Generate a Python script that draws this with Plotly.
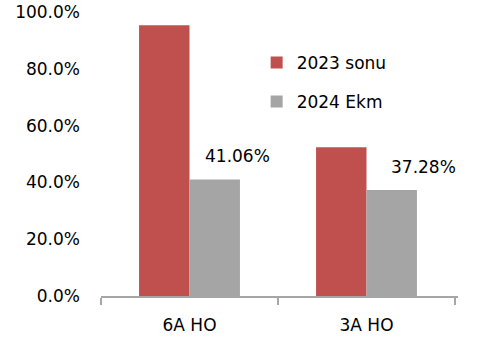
import plotly.graph_objects as go

categories = ["6A HO", "3A HO"]
series_names = ["2023 sonu", "2024 Ekm"]
values_2023 = [0.953, 0.524]
values_2024 = [0.4106, 0.3728]
colors = ["#C0504D", "#A5A5A5"]
y_ticks = [0, 0.2, 0.4, 0.6, 0.8, 1.0]

FONT = "DejaVu Sans"
fig = go.Figure()
for i, (name, vals) in enumerate(zip(series_names, [values_2023, values_2024])):
    fig.add_trace(go.Bar(
        x=categories, y=vals, name=name, legendgroup=name,
        marker=dict(color=colors[i], line=dict(width=0)),
    ))

label_xshift = [48, 57]
for j, cat in enumerate(categories):
    fig.add_annotation(
        x=cat, y=values_2024[j], text=f"{values_2024[j]*100:.2f}%",
        showarrow=False, xshift=label_xshift[j], yshift=11, yanchor="bottom",
        font=dict(family=FONT, size=17, color="#000000"),
    )

fig.update_layout(
    width=484, height=340,
    margin=dict(l=101, r=26, t=12, b=44, pad=0, autoexpand=False),
    paper_bgcolor="white", plot_bgcolor="white",
    barmode="group", bargap=0.43, bargroupgap=0,
    font=dict(family=FONT, size=17, color="#000000"),
    showlegend=True,
    legend=dict(
        x=0.436, y=0.884, xanchor="left", yanchor="top",
        traceorder="grouped", tracegroupgap=14,
        font=dict(family=FONT, size=17),
        bgcolor="rgba(0,0,0,0)",
    ),
    xaxis=dict(
        type="category", automargin=False,
        showline=True, linecolor="#A6A6A6", linewidth=1.5,
        ticks="outside", ticklen=7, tickwidth=1.5, tickcolor="#A6A6A6",
        tickson="boundaries", showgrid=False, zeroline=False,
        ticklabelstandoff=13,
        tickfont=dict(family=FONT, size=17),
    ),
    yaxis=dict(
        range=[0, 1.0], tickvals=y_ticks, tickformat=".1%", automargin=False,
        showline=False, showgrid=False, zeroline=False, ticks="",
        ticklabelstandoff=20,
        tickfont=dict(family=FONT, size=17),
    ),
)

fig.write_html("out.html")
